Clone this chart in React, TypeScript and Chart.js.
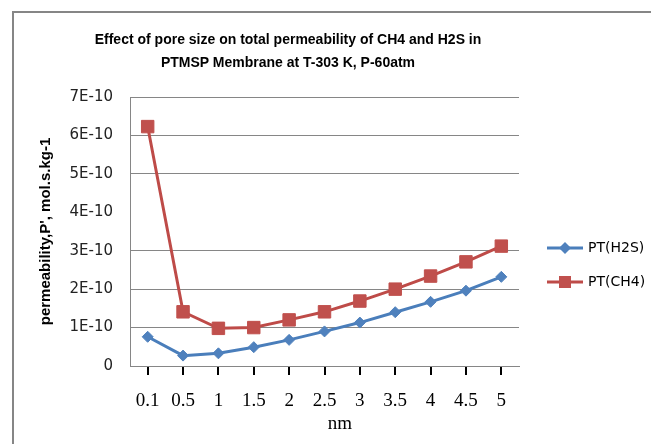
import React, { useEffect, useRef } from 'react';
import { Chart, registerables } from 'chart.js';

Chart.register(...registerables);

const categories = ['0.1', '0.5', '1', '1.5', '2', '2.5', '3', '3.5', '4', '4.5', '5'];
const ptH2S = [0.76e-10, 0.27e-10, 0.33e-10, 0.49e-10, 0.68e-10, 0.9e-10, 1.13e-10, 1.4e-10, 1.67e-10, 1.96e-10, 2.32e-10];
const ptCH4 = [6.23e-10, 1.41e-10, 0.98e-10, 1.0e-10, 1.2e-10, 1.41e-10, 1.69e-10, 2.0e-10, 2.34e-10, 2.71e-10, 3.12e-10];
const yTickLabels = ['0', '1E-10', '2E-10', '3E-10', '4E-10', '5E-10', '6E-10', '7E-10'];
const seriesNames = ['PT(H2S)', 'PT(CH4)'];
const titleLines = ['Effect of pore size on total permeability of CH4 and H2S in', 'PTMSP Membrane at T-303 K, P-60atm'];
const xTitle = 'nm';
const yTitle = "permeability,P', mol.s.kg-1";

const BLUE_LINE = '#4A7EBB';
const BLUE_MARK = '#4F81BD';
const RED_LINE = '#BE4B48';
const RED_MARK = '#C0504D';
const GRID = '#868686';

const lineLegend = {
  id: 'lineLegend',
  afterDraw(chart: any) {
    const ctx = chart.ctx;
    chart.data.datasets.forEach((ds: any, i: number) => {
      const y = 248 + i * 34;
      ctx.save();
      ctx.strokeStyle = ds.borderColor;
      ctx.lineWidth = 3;
      ctx.beginPath();
      ctx.moveTo(547, y);
      ctx.lineTo(583, y);
      ctx.stroke();
      ctx.fillStyle = ds.pointBackgroundColor;
      ctx.beginPath();
      if (ds.pointStyle === 'rectRot') {
        const r = 6;
        ctx.moveTo(565, y - r);
        ctx.lineTo(565 + r, y);
        ctx.lineTo(565, y + r);
        ctx.lineTo(565 - r, y);
        ctx.closePath();
      } else {
        ctx.rect(565 - 6, y - 6, 12, 12);
      }
      ctx.fill();
      ctx.fillStyle = '#000';
      ctx.font = '14px "DejaVu Sans"';
      ctx.textBaseline = 'middle';
      ctx.textAlign = 'left';
      ctx.fillText(ds.label, 588, y);
      ctx.restore();
    });
  },
};

export default function App() {
  const ref = useRef<HTMLCanvasElement | null>(null);

  useEffect(() => {
    if (!ref.current) return;
    const chart = new Chart(ref.current, {
      type: 'line',
      data: {
        labels: categories,
        datasets: [
          {
            label: seriesNames[0],
            data: ptH2S,
            borderColor: BLUE_LINE,
            borderWidth: 3,
            pointStyle: 'rectRot',
            pointRadius: 5.5,
            pointBackgroundColor: BLUE_MARK,
            pointBorderColor: BLUE_MARK,
            pointBorderWidth: 1,
            tension: 0,
          },
          {
            label: seriesNames[1],
            data: ptCH4,
            borderColor: RED_LINE,
            borderWidth: 3,
            pointStyle: 'rect',
            pointRadius: 8.8,
            pointBackgroundColor: RED_MARK,
            pointBorderColor: RED_MARK,
            pointBorderWidth: 1,
            tension: 0,
          },
        ],
      },
      options: {
        responsive: false,
        animation: false,
        layout: { padding: { top: 97, right: 132, bottom: 0, left: 30 } },
        plugins: {
          legend: { display: false },
          title: { display: false },
          tooltip: { enabled: false },
        },
        scales: {
          x: {
            type: 'category',
            offset: true,
            afterFit: (s: any) => {
              s.height = 78;
            },
            grid: {
              display: true,
              drawOnChartArea: false,
              drawTicks: true,
              tickLength: 9,
              color: '#000',
              lineWidth: 2,
            },
            border: { display: true, color: GRID, width: 1 },
            ticks: {
              color: '#000',
              font: { family: '"Liberation Serif"', size: 19 },
              padding: 15,
              maxRotation: 0,
              autoSkip: false,
            },
            title: { display: false },
          },
          y: {
            min: 0,
            max: 7e-10,
            afterFit: (s: any) => {
              s.width = 100;
            },
            ticks: {
              stepSize: 1e-10,
              color: '#222',
              font: { family: '"DejaVu Sans"', size: 15 },
              padding: 17,
              callback: (_v: any, i: number) => yTickLabels[i] ?? '',
            },
            grid: {
              drawTicks: false,
              color: (c: any) => (c.index === 4 ? 'rgba(0,0,0,0)' : GRID),
              lineWidth: 1,
            },
            border: { display: true, color: GRID, width: 1 },
            title: {
              display: true,
              text: yTitle,
              color: '#000',
              font: { family: '"Liberation Sans"', size: 15, weight: 'bold' },
              padding: { top: 7, bottom: 0 },
            },
          },
        },
      },
      plugins: [lineLegend],
    } as any);
    return () => chart.destroy();
  }, []);

  return (
    <div style={{ position: 'fixed', left: 0, top: 0, width: 651, height: 444, overflow: 'hidden', background: '#fff' }}>
      <div
        style={{
          position: 'absolute',
          left: 12,
          top: 11,
          width: 700,
          height: 500,
          borderLeft: '2px solid #868686',
          borderTop: '2px solid #868686',
        }}
      />
      <canvas ref={ref} width={651} height={444} style={{ position: 'absolute', left: 0, top: 0 }} />
      <div
        style={{
          position: 'absolute',
          left: 38,
          width: 500,
          top: 28,
          textAlign: 'center',
          fontFamily: '"Liberation Sans", sans-serif',
          fontWeight: 'bold',
          fontSize: 14,
          lineHeight: '23px',
          color: '#000',
        }}
      >
        {titleLines.map((t) => (
          <div key={t}>{t}</div>
        ))}
      </div>
      <div
        style={{
          position: 'absolute',
          left: 290,
          width: 100,
          top: 411,
          textAlign: 'center',
          fontFamily: '"Liberation Serif", serif',
          fontSize: 19,
          lineHeight: '24px',
          color: '#000',
        }}
      >
        {xTitle}
      </div>
    </div>
  );
}
